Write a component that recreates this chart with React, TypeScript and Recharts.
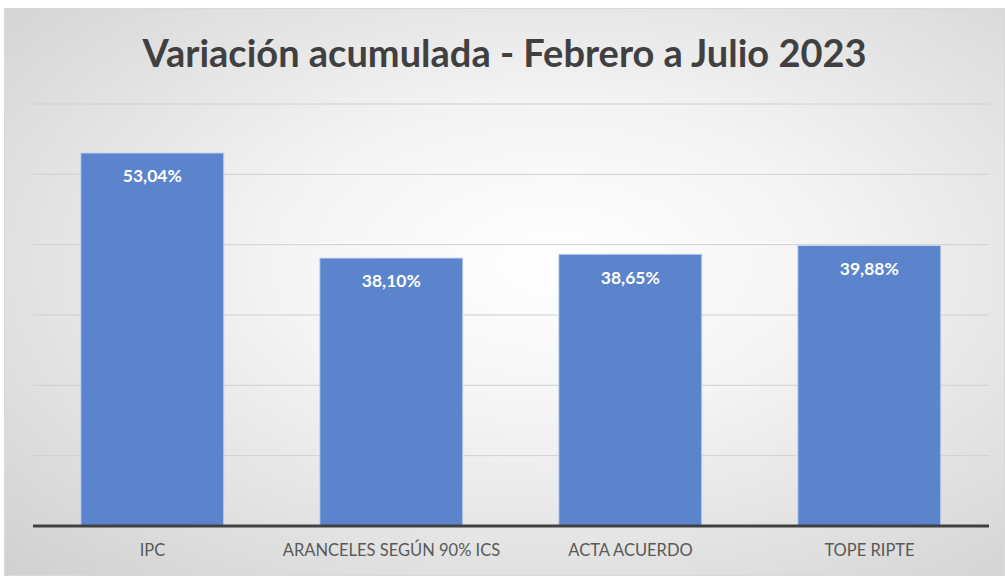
import { BarChart, Bar, XAxis, YAxis, CartesianGrid, LabelList } from "recharts";

// Datos
const categorias = ["IPC", "ARANCELES SEGÚN 90% ICS", "ACTA ACUERDO", "TOPE RIPTE"];
const variacion = [53.04, 38.1, 38.65, 39.88];
const ticksY = [0, 10, 20, 30, 40, 50, 60];

const data = categorias.map((name, i) => ({ name, valor: variacion[i] }));

const FONT = "Lato, 'Open Sans', sans-serif";

// Etiqueta del eje X en gris, como en Excel
const CategoryTick = (props: any) => {
  const { x, y, payload } = props;
  return (
    <text
      x={x}
      y={y + 18}
      textAnchor="middle"
      dominantBaseline="middle"
      fill="#595959"
      fontSize={16.5}
      fontFamily={FONT}
    >
      {payload.value}
    </text>
  );
};

export default function App() {
  return (
    <div
      style={{
        position: "absolute",
        left: 4,
        top: 8,
        width: 1001,
        height: 568,
        boxSizing: "border-box",
        border: "1px solid #d9d9d9",
        background:
          "radial-gradient(ellipse at 55% 45%, #ffffff 0%, #f4f4f4 35%, #dedede 75%, #d0d0d0 100%)",
      }}
    >
      <div
        style={{
          position: "absolute",
          left: 0,
          top: 20,
          width: "100%",
          textAlign: "center",
          fontFamily: FONT,
          fontWeight: 700,
          fontSize: 38,
          color: "#404040",
        }}
      >
        Variación acumulada - Febrero a Julio 2023
      </div>
      <BarChart
        width={999}
        height={566}
        data={data}
        margin={{ top: 95, right: 15, left: 28, bottom: 8 }}
        barCategoryGap="20%"
        style={{ position: "absolute", left: 0, top: 0 }}
      >
        <CartesianGrid vertical={false} stroke="#d0d0d0" strokeWidth={1} />
        <YAxis hide domain={[0, 60]} ticks={ticksY} />
        <XAxis
          dataKey="name"
          height={41}
          axisLine={{ stroke: "#404040", strokeWidth: 3 }}
          tickLine={false}
          tick={<CategoryTick />}
          interval={0}
        />
        <Bar
          dataKey="valor"
          fill="#5b84cc"
          stroke="#c9d6ee"
          strokeWidth={1}
          isAnimationActive={false}
        >
          <LabelList
            dataKey="valor"
            position="insideTop"
            offset={17}
            formatter={(v: any) => `${Number(v).toFixed(2).replace(".", ",")}%`}
            fill="#ffffff"
            fontSize={17.5}
            fontWeight={700}
            fontFamily={FONT}
          />
        </Bar>
      </BarChart>
    </div>
  );
}
